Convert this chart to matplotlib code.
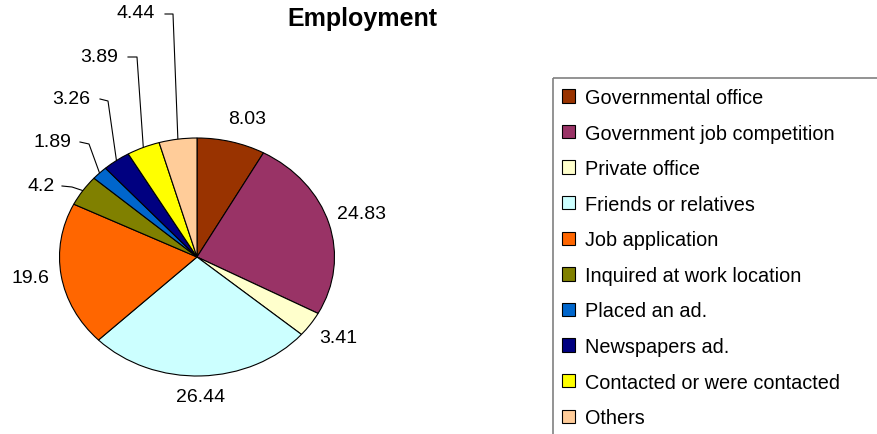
import matplotlib
matplotlib.use('Agg')
import numpy as np
import matplotlib.pyplot as plt
from matplotlib.patches import Patch, Rectangle

plt.rcParams['font.family'] = ['Liberation Sans', 'DejaVu Sans']

# --- data ---
categories = ['Governmental office', 'Government job competition', 'Private office',
              'Friends or relatives', 'Job application', 'Inquired at work location',
              'Placed an ad.', 'Newspapers ad.', 'Contacted or were contacted', 'Others']
values = [8.03, 24.83, 3.41, 26.44, 19.6, 4.2, 1.89, 3.26, 3.89, 4.44]
value_labels = ['8.03', '24.83', '3.41', '26.44', '19.6', '4.2', '1.89', '3.26', '3.89', '4.44']
colors = ['#993300', '#993366', '#FFFFCC', '#CCFFFF', '#FF6600',
          '#808000', '#0066CC', '#000080', '#FFFF00', '#FFCC99']

# --- layout (pixels, origin top-left) ---
W, H = 877, 435
cx, cy, rx, ry = 197, 258, 137.5, 119
label_pos = [(247, 119), (361, 215), (338, 339), (201, 398), (30, 279),
             (41, 187), (52, 143), (71, 100), (99, 58), (136, 14)]
# leader lines: (start, elbow) for the small slices, None = no leader
leaders = [None, None, None, None, None,
           ((62, 187), (72, 188)), ((80, 143), (89, 145)), ((100, 100), (108, 102)),
           ((128, 58), (137, 58)), ((165, 15), (173, 15))]

fig = plt.figure(figsize=(W / 100, H / 100), dpi=100)
fig.set_facecolor('white')

# overlay axes in pixel coordinates for text and leader lines
bg = fig.add_axes([0, 0, 1, 1])
bg.set_xlim(0, W)
bg.set_ylim(H, 0)
bg.axis('off')

# pie axes, stretched so the pie becomes an ellipse
ax = fig.add_axes([(cx - rx) / W, (H - cy - ry) / H, 2 * rx / W, 2 * ry / H])
wedges, _ = ax.pie(values, colors=colors, startangle=90, counterclock=False,
                   wedgeprops=dict(edgecolor='black', linewidth=0.8))
ax.set_aspect('auto')
ax.set_xlim(-1, 1)
ax.set_ylim(-1, 1)
ax.axis('off')

for w, lab, (tx, ty), ld in zip(wedges, value_labels, label_pos, leaders):
    bg.text(tx, ty, lab, fontsize=14, ha='center', va='center', color='black')
    if ld is not None:
        mid = np.deg2rad((w.theta1 + w.theta2) / 2)
        ex = cx + rx * np.cos(mid)
        ey = cy - ry * np.sin(mid)
        (sx, sy), (mx, my) = ld
        bg.plot([sx, mx, ex], [sy, my, ey], color='black', lw=0.8)

bg.text(362, 19, 'Employment', fontsize=18, fontweight='bold', ha='center', va='center')

# legend frame runs off the figure edge
bg.add_patch(Rectangle((553, 79), 400, 400, facecolor='none', edgecolor='#808080',
                       lw=1.2, clip_on=False))
handles = [Patch(facecolor=c, edgecolor='black', linewidth=0.8) for c in colors]
fig.legend(handles, categories, loc='upper left', bbox_to_anchor=(560 / W, 1 - 87 / H),
           frameon=False, fontsize=14.3, handlelength=0.66, handleheight=0.66,
           handletextpad=0.5, labelspacing=0.835, borderpad=0.1, borderaxespad=0)

plt.savefig('out.png', dpi=100, facecolor='white')
